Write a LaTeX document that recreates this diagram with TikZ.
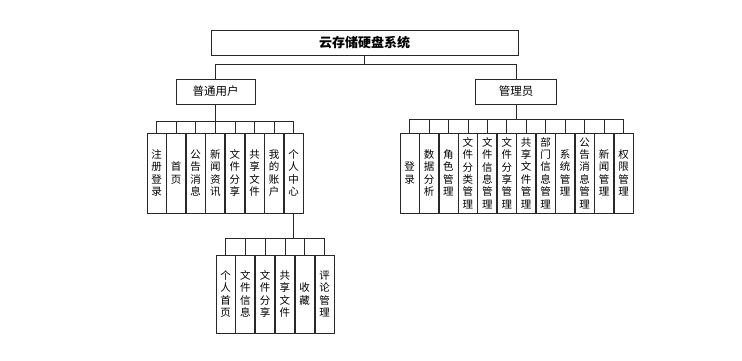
\documentclass[tikz,border=0pt]{standalone}
\usepackage{fontspec}
\setmainfont{Noto Sans CJK SC}
\usetikzlibrary{positioning,calc}
\definecolor{edge}{RGB}{40,40,40}

\begin{document}
\begin{tikzpicture}[x=1pt, y=-1pt,
  top/.style={draw=edge, line width=0.8pt, minimum width=307pt, minimum height=25pt,
    inner sep=0pt, font=\fontsize{13}{14}\selectfont\bfseries},
  role/.style={draw=edge, line width=0.8pt, minimum height=25pt, inner sep=0pt,
    font=\fontsize{11.5}{13}\selectfont},
  leaf/.style={draw=edge, line width=0.8pt, minimum width=19pt, minimum height=80pt,
    inner sep=0pt, text width=19pt, align=center, font=\fontsize{10.5}{12.4}\selectfont},
  sub/.style={leaf, minimum height=78pt},
  link/.style={draw=edge, line width=0.7pt}
]
\useasboundingbox (0,0) rectangle (742,360);

\node[top] (sys) at (364.5,42.5) {云存储硬盘系统};
\node[role, minimum width=79pt] (user) at (215.5,91.5) {普通用户};
\node[role, minimum width=81pt] (admin) at (516,91.5) {管理员};

% user side
\node[leaf] (u1) at (156.5,173) {注\\册\\登\\录};
\node[leaf] (u2) at (176.1,173) {首\\页};
\node[leaf] (u3) at (195.7,173) {公\\告\\消\\息};
\node[leaf] (u4) at (215.3,173) {新\\闻\\资\\讯};
\node[leaf] (u5) at (234.9,173) {文\\件\\分\\享};
\node[leaf] (u6) at (254.5,173) {共\\享\\文\\件};
\node[leaf] (u7) at (274.1,173) {我\\的\\账\\户};
\node[leaf] (u8) at (293.7,173) {个\\人\\中\\心};

% personal center
\node[sub] (c1) at (225.5,294) {个\\人\\首\\页};
\node[sub] (c2) at (245.3,294) {文\\件\\信\\息};
\node[sub] (c3) at (265.1,294) {文\\件\\分\\享};
\node[sub] (c4) at (284.9,294) {共\\享\\文\\件};
\node[sub] (c5) at (304.7,294) {收\\藏};
\node[sub] (c6) at (324.5,294) {评\\论\\管\\理};

% admin side
\node[leaf] (a1) at (409.5,173) {登\\录};
\node[leaf] (a2) at (429.0,173) {数\\据\\分\\析};
\node[leaf] (a3) at (448.4,173) {角\\色\\管\\理};
\node[leaf] (a4) at (467.9,173) {文\\件\\分\\类\\管\\理};
\node[leaf] (a5) at (487.3,173) {文\\件\\信\\息\\管\\理};
\node[leaf] (a6) at (506.8,173) {文\\件\\分\\享\\管\\理};
\node[leaf] (a7) at (526.2,173) {共\\享\\文\\件\\管\\理};
\node[leaf] (a8) at (545.7,173) {部\\门\\信\\息\\管\\理};
\node[leaf] (a9) at (565.1,173) {系\\统\\管\\理};
\node[leaf] (a10) at (584.6,173) {公\\告\\消\\息\\管\\理};
\node[leaf] (a11) at (604.0,173) {新\\闻\\管\\理};
\node[leaf] (a12) at (623.5,173) {权\\限\\管\\理};

% connectors
\foreach \r in {user,admin}
  \draw[link] (sys.south) -- ++(0,9) -| (\r.north);
\foreach \n in {u1,u2,u3,u4,u5,u6,u7,u8}
  \draw[link] (user.south) -- ++(0,17) -| (\n.north);
\foreach \n in {c1,c2,c3,c4,c5,c6}
  \draw[link] (u8.south) -- ++(0,25) -| (\n.north);
\foreach \n in {a1,a2,a3,a4,a5,a6,a7,a8,a9,a10,a11,a12}
  \draw[link] (admin.south) -- ++(0,15) -| (\n.north);
\end{tikzpicture}
\end{document}
